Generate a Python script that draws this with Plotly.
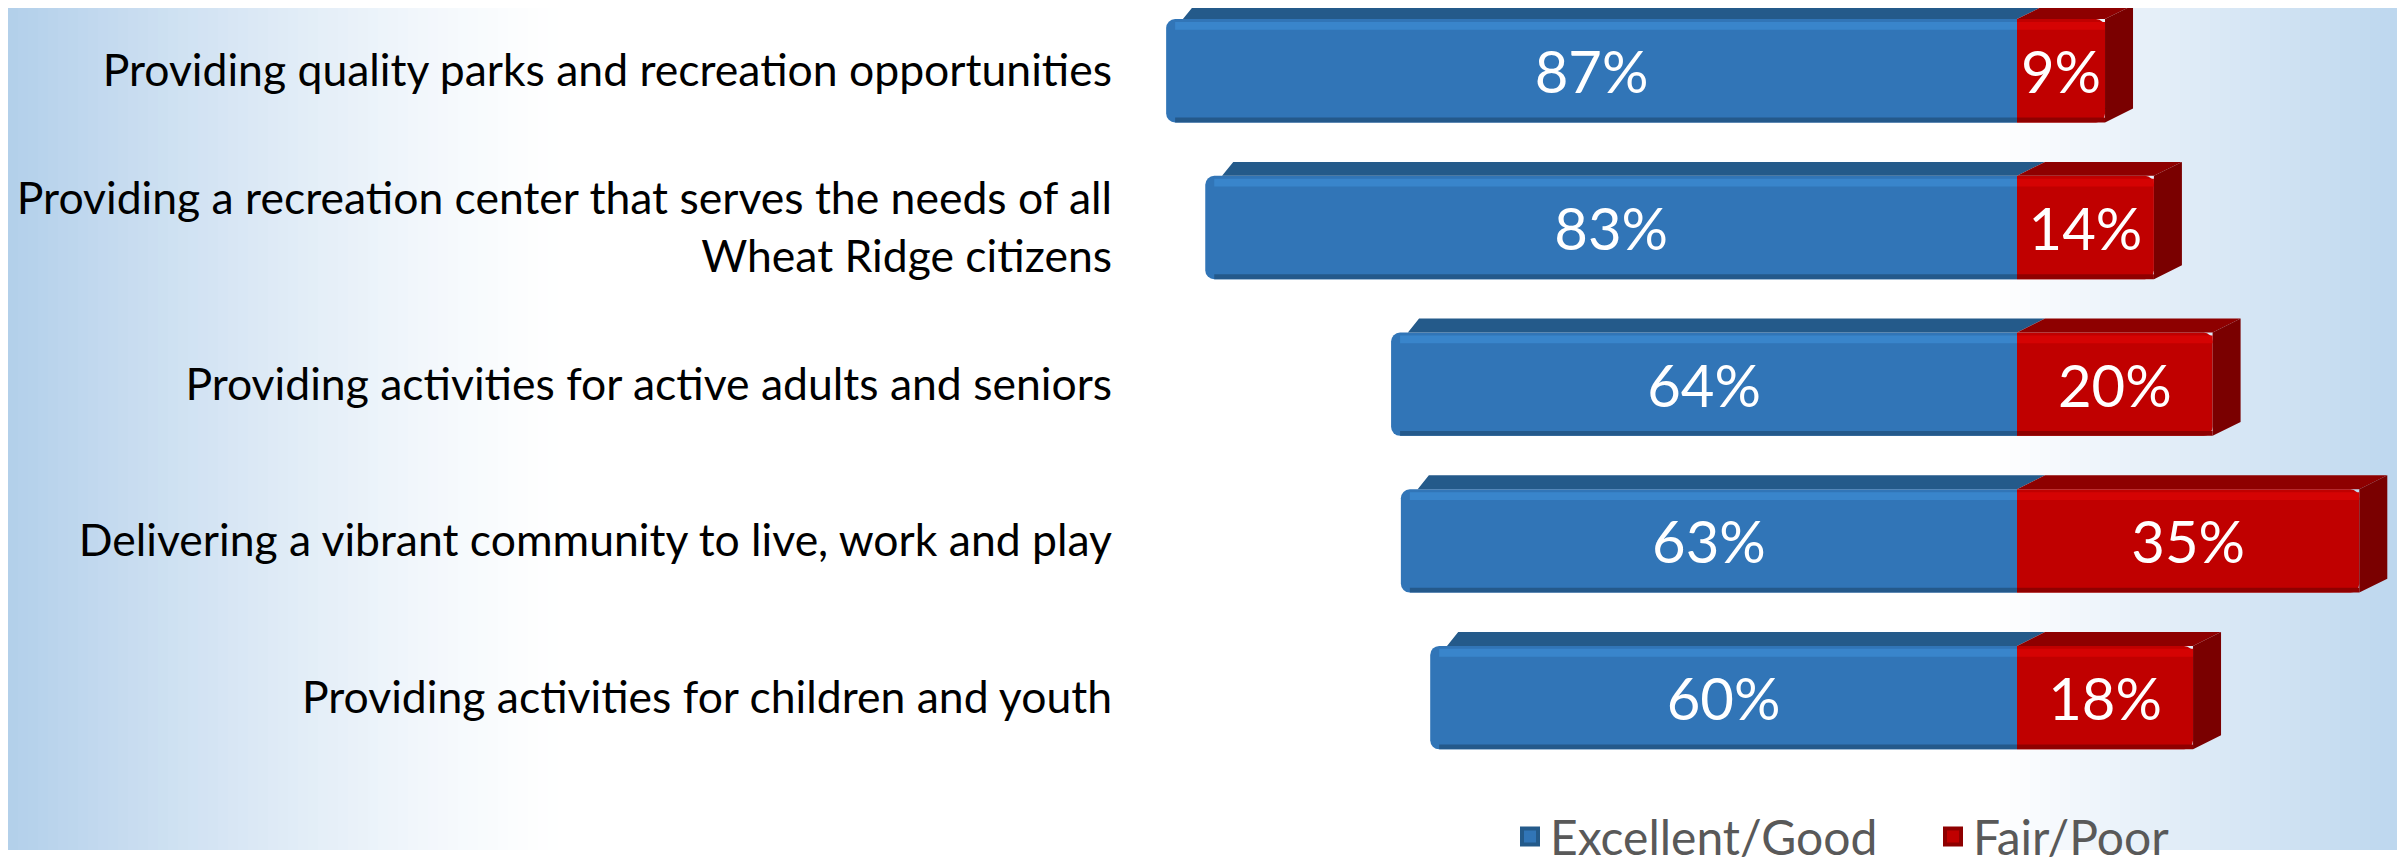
import plotly.graph_objects as go

# ---------------- data ----------------
categories = [
    "Providing quality parks and recreation opportunities",
    "Providing a recreation center that serves the needs of all<br>Wheat Ridge citizens",
    "Providing activities for active adults and seniors",
    "Delivering a vibrant community to live, work and play",
    "Providing activities for children and youth",
]
excellent_good = [87, 83, 64, 63, 60]
fair_poor = [9, 14, 20, 35, 18]
series_names = ["Excellent/Good", "Fair/Poor"]

# ---------------- style / geometry ----------------
OFF = 8                      # page body margin
SY = 0.9776                  # vertical capture factor observed
W = 2405 - 2 * OFF
H = round(863 / SY) - 2 * OFF

def fy(y):                   # target screen y -> figure px
    return y / SY - OFF

BLUE, BLUE_TOP, BLUE_HI, BLUE_LO = "#3175B7", "#245A8A", "#3985CB", "#24598B"
RED, RED_TOP, RED_SIDE, RED_HI, RED_LO = "#C00000", "#8E0000", "#7A0000", "#D50303", "#8F0000"
FONT = "Lato, 'Open Sans', sans-serif"
PX_X = 9.78                  # px per percent
ZERO_PX = 2017 - OFF
X_RANGE = [-ZERO_PX / PX_X, (W - ZERO_PX) / PX_X]
ROW_PX = 157.75 / SY
FIRST_PX = fy(71)
N = len(categories)
Y_RANGE = [(N - 1) + (H - (FIRST_PX + ROW_PX * (N - 1))) / ROW_PX, -FIRST_PX / ROW_PX]
BAR_W = 104 / SY / ROW_PX
DX = 28 / PX_X               # 3D depth (x units)
DY = 14 / SY / ROW_PX        # 3D depth (y units)
HI0, HI1 = 3 / ROW_PX, 11 / ROW_PX
LO0 = 5 / ROW_PX
INSET = 9 / PX_X

pos = list(range(N))

fig = go.Figure()

# 3D faces and shading bands, derived from the data
faces = {k: ([], []) for k in ["bt", "rt", "rs", "bh", "rh", "bl", "rl"]}
def poly(key, xs, ys):
    faces[key][0].extend(xs + [xs[0], None])
    faces[key][1].extend(ys + [ys[0], None])

for p, b, r in zip(pos, excellent_good, fair_poor):
    yt = p - BAR_W / 2
    yb = p + BAR_W / 2
    poly("bt", [-b + 0.6 * DX, -b + DX, DX, 0], [yt, yt - DY, yt - DY, yt])
    poly("rt", [0, DX, r + DX, r], [yt, yt - DY, yt - DY, yt])
    poly("rs", [r, r + DX, r + DX, r], [yt, yt - DY, yb - DY, yb])
    poly("bh", [-b + INSET, 0, 0, -b + INSET], [yt + HI0, yt + HI0, yt + HI1, yt + HI1])
    poly("rh", [0, r, r, 0], [yt + HI0, yt + HI0, yt + HI1, yt + HI1])
    poly("bl", [-b + INSET, 0, 0, -b + INSET], [yb - LO0, yb - LO0, yb, yb])
    poly("rl", [0, r, r, 0], [yb - LO0, yb - LO0, yb, yb])

for key, col in [("bt", BLUE_TOP), ("rt", RED_TOP), ("rs", RED_SIDE),
                 ("bh", BLUE_HI), ("rh", RED_HI), ("bl", BLUE_LO), ("rl", RED_LO)]:
    xs, ys = faces[key]
    fig.add_trace(go.Scatter(x=xs, y=ys, fill="toself", fillcolor=col, mode="lines",
                             line=dict(width=0, color=col), hoverinfo="skip", showlegend=False))

for vals, sign, col, name, rad in [(excellent_good, -1, BLUE, series_names[0], 9),
                                   (fair_poor, 1, RED, series_names[1], 0)]:
    fig.add_trace(go.Bar(
        y=pos, x=[sign * v for v in vals], orientation="h", name=name,
        marker=dict(color=col, line=dict(width=0), cornerradius=rad),
        text=[f"{v}%" for v in vals], textposition="inside", insidetextanchor="middle",
        textfont=dict(color="white", size=58, family=FONT), constraintext="none",
        width=BAR_W, hoverinfo="skip", showlegend=False,
    ))

# legend entries (larger square symbols)
for col, dark, name in [(BLUE, BLUE_TOP, series_names[0]), (RED, RED_TOP, series_names[1])]:
    fig.add_trace(go.Scatter(x=[None], y=[None], mode="markers", name=name,
                             marker=dict(symbol="square", size=16, color=col,
                                         line=dict(width=4, color=dark))))

# background gradient strips
shapes = []
left_col = (178, 207, 234)
right_col = (188, 214, 238)
def mix(c, t):
    return "rgb(%d,%d,%d)" % tuple(round(255 + (ci - 255) * t) for ci in c)
LEFT_END = 560 - OFF
n = LEFT_END // 10 + 1
for i in range(n):
    x0 = i * 10
    t = (1 - (i + 0.5) / n) ** 1.3
    shapes.append(dict(type="rect", xref="paper", yref="paper", x0=x0 / W, x1=(x0 + 11) / W,
                       y0=0, y1=1, fillcolor=mix(left_col, t), line=dict(width=0), layer="below"))
start = 2000 - OFF
n2 = (W - start) // 10 + 1
for i in range(n2):
    x0 = start + i * 10
    t = (i + 0.5) / n2
    shapes.append(dict(type="rect", xref="paper", yref="paper", x0=x0 / W, x1=min(x0 + 11, W) / W,
                       y0=0, y1=1, fillcolor=mix(right_col, t), line=dict(width=0), layer="below"))

fig.update_layout(
    width=W, height=H,
    margin=dict(l=0, r=0, t=0, b=0),
    paper_bgcolor="white", plot_bgcolor="white",
    barmode="relative",
    shapes=shapes,
    xaxis=dict(range=X_RANGE, visible=False, fixedrange=True),
    yaxis=dict(range=Y_RANGE, tickvals=pos, ticktext=categories, anchor="free",
               position=(1112 - OFF) / W, side="left", showgrid=False, zeroline=False,
               showline=False, ticks="", tickfont=dict(size=44.5, color="black", family=FONT)),
    showlegend=True,
    legend=dict(orientation="h", x=(1510 - OFF) / W, xanchor="left",
                y=1 - fy(842) / H, yanchor="middle", entrywidth=378,
                font=dict(size=48, color="#595959", family=FONT), bgcolor="rgba(0,0,0,0)",
                traceorder="normal", itemsizing="trace"),
)

fig.write_html("out.html")
